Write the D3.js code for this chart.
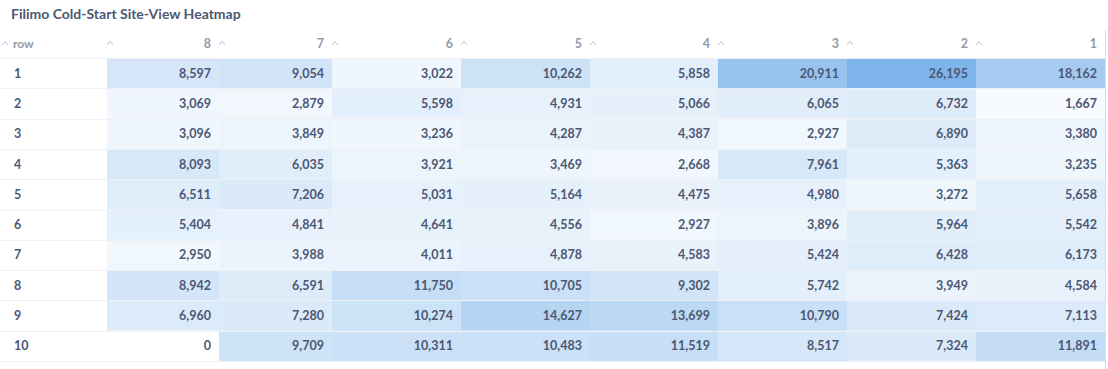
<!DOCTYPE html>
<html>
<head>
<meta charset="utf-8">
<script src="https://cdn.jsdelivr.net/npm/d3@7"></script>
<style>
  html, body { margin: 0; padding: 0; background: #fff; }
  svg { display: block; font-family: Lato, "Open Sans", sans-serif; }
</style>
</head>
<body>
<svg id="chart" width="1108" height="369"></svg>
<script>
// ---------------- data ----------------
const title = "Filimo Cold-Start Site-View Heatmap";
const rowHeader = "row";
const rowLabels = ["1", "2", "3", "4", "5", "6", "7", "8", "9", "10"];
const colLabels = ["8", "7", "6", "5", "4", "3", "2", "1"];
const col8 = [8597, 3069, 3096, 8093, 6511, 5404, 2950, 8942, 6960, 0];
const col7 = [9054, 2879, 3849, 6035, 7206, 4841, 3988, 6591, 7280, 9709];
const col6 = [3022, 5598, 3236, 3921, 5031, 4641, 4011, 11750, 10274, 10311];
const col5 = [10262, 4931, 4287, 3469, 5164, 4556, 4878, 10705, 14627, 10483];
const col4 = [5858, 5066, 4387, 2668, 4475, 2927, 4583, 9302, 13699, 11519];
const col3 = [20911, 6065, 2927, 7961, 4980, 3896, 5424, 5742, 10790, 8517];
const col2 = [26195, 6732, 6890, 5363, 3272, 5964, 6428, 3949, 7424, 7324];
const col1 = [18162, 1667, 3380, 3235, 5658, 5542, 6173, 4584, 7113, 11891];

// ---------------- layout ----------------
const columns = [col8, col7, col6, col5, col4, col3, col2, col1];
const colWidths = [112, 113, 129, 129, 128, 129, 129, 129];
const firstColX = 107;
const tableRight = 1105;
const headerTop = 30, bodyTop = 58, bodyBottom = 361;

const svg = d3.select("#chart");
const textColor = "#4c5773";
const headColor = "#949aab";

const cells = [];
columns.forEach((col, ci) => col.forEach((v, ri) => cells.push({ row: rowLabels[ri], col: colLabels[ci], value: v })));
const maxV = d3.max(cells, d => d.value);
const minV = d3.min(cells, d => d.value);
const color = d3.scaleLinear().domain([minV, maxV]).range(["#ffffff", "#7db4ea"]);

const edges = [firstColX];
colWidths.forEach(w => edges.push(edges[edges.length - 1] + w));
const x = d3.scaleOrdinal().domain(colLabels).range(edges.slice(0, -1));
const wOf = d3.scaleOrdinal().domain(colLabels).range(colWidths);
const y = d3.scaleBand().domain(rowLabels).range([bodyTop, bodyBottom]);

// title
svg.append("text").attr("x", 11).attr("y", 19)
  .attr("fill", textColor).attr("font-size", 14).attr("font-weight", 700)
  .text(title);

// cells
svg.append("g").selectAll("rect").data(cells).join("rect")
  .attr("x", d => x(d.col)).attr("y", d => y(d.row))
  .attr("width", d => wOf(d.col)).attr("height", y.bandwidth())
  .attr("fill", d => color(d.value));

// row lines
svg.append("g").selectAll("line").data(rowLabels).join("line")
  .attr("x1", 0).attr("x2", tableRight)
  .attr("y1", d => Math.round(y(d)) + 0.5).attr("y2", d => Math.round(y(d)) + 0.5)
  .attr("stroke", "#eef0f3").attr("stroke-width", 1);
svg.append("line").attr("x1", 0).attr("x2", tableRight)
  .attr("y1", bodyBottom + 0.5).attr("y2", bodyBottom + 0.5)
  .attr("stroke", "#eef0f3");

// right border
svg.append("line").attr("x1", tableRight + 0.5).attr("x2", tableRight + 0.5)
  .attr("y1", headerTop).attr("y2", 369).attr("stroke", "#dcdfe4");

// header carets
function caret(g, cx) {
  g.append("path")
    .attr("d", `M${cx - 3},${45} L${cx},${41.5} L${cx + 3},${45}`)
    .attr("fill", "none").attr("stroke", "#c9ccd3").attr("stroke-width", 1.1);
}
const head = svg.append("g");
caret(head, 5);
head.append("text").attr("x", 13).attr("y", 48).attr("fill", headColor)
  .attr("font-size", 12).attr("font-weight", 700).text(rowHeader);
colLabels.forEach(c => {
  caret(head, x(c) + 3);
  head.append("text").attr("x", x(c) + wOf(c) - 8).attr("y", 48)
    .attr("text-anchor", "end").attr("fill", headColor)
    .attr("font-size", 12.5).attr("font-weight", 700).text(c);
});

// row labels
svg.append("g").selectAll("text").data(rowLabels).join("text")
  .attr("x", 14).attr("y", d => y(d) + y.bandwidth() / 2 + 4.5)
  .attr("fill", textColor).attr("font-size", 12.5).attr("font-weight", 700)
  .text(d => d);

// values
const fmt = d3.format(",");
svg.append("g").selectAll("text").data(cells).join("text")
  .attr("x", d => x(d.col) + wOf(d.col) - 8)
  .attr("y", d => y(d.row) + y.bandwidth() / 2 + 4.5)
  .attr("text-anchor", "end").attr("fill", textColor)
  .attr("font-size", 12.5).attr("font-weight", 700)
  .text(d => fmt(d.value));
</script>
</body>
</html>
